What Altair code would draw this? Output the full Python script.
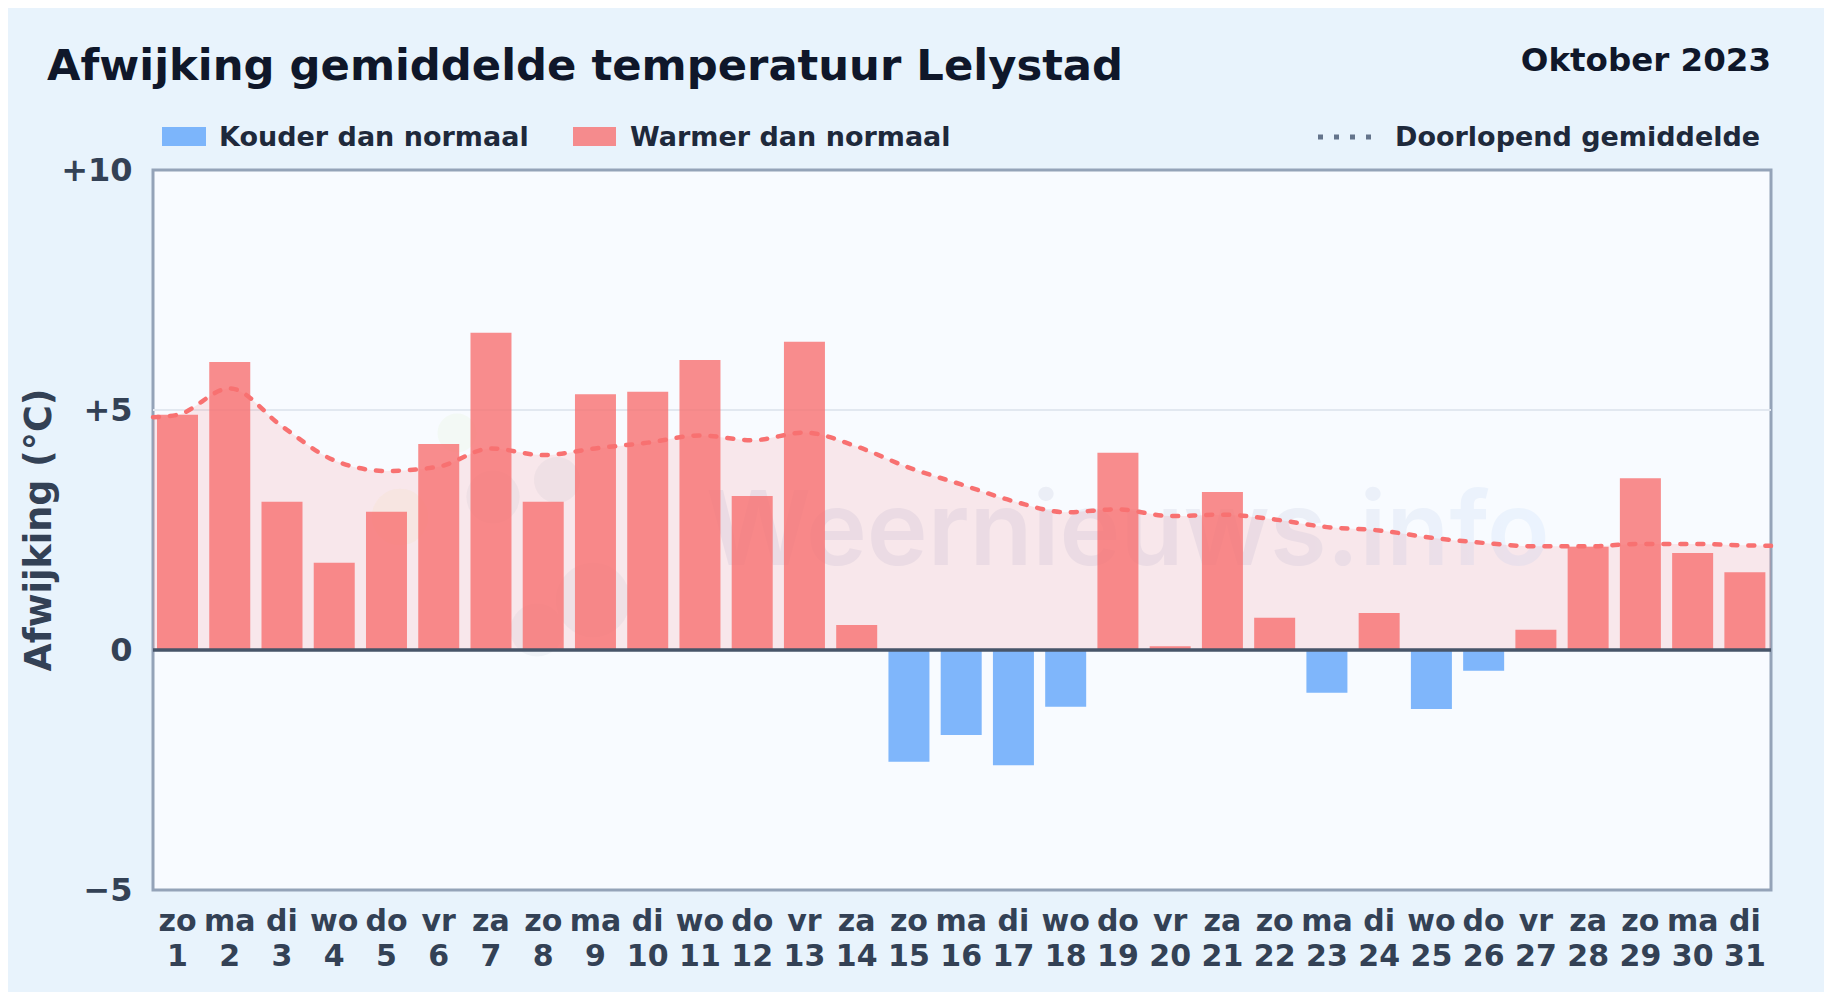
import altair as alt
import pandas as pd

days = list(range(1, 32))
weekdays = ["zo","ma","di","wo","do","vr","za"] * 4 + ["zo","ma","di"]
deviation = [4.90, 6.00, 3.09, 1.82, 2.88, 4.29, 6.61, 3.09, 5.33, 5.38, 6.04, 3.21, 6.42, 0.52, -2.33, -1.77,
             -2.40, -1.18, 4.11, 0.08, 3.29, 0.67, -0.89, 0.77, -1.23, -0.43, 0.42, 2.15, 3.58, 2.02, 1.62]
mean_days = [0.531] + days + [31.5]
running_mean = [4.85, 4.90, 5.45, 4.66, 3.95, 3.73, 3.82, 4.20, 4.06, 4.20, 4.32, 4.47, 4.37, 4.53, 4.24, 3.80, 3.45,
                3.10, 2.87, 2.93, 2.79, 2.82, 2.72, 2.56, 2.49, 2.34, 2.23, 2.16, 2.16, 2.21, 2.21, 2.18, 2.17]
y_ticks = [-5, 0, 5, 10]
y_tick_labels = ["\u22125", "0", "+5", "+10"]
COLD_LABEL, WARM_LABEL = "Kouder dan normaal", "Warmer dan normaal"
kinds = [WARM_LABEL if v >= 0 else COLD_LABEL for v in deviation]

bars_df = pd.DataFrame({"day": days, "value": deviation, "kind": kinds, "weekday": weekdays})
mean_df = pd.DataFrame({"day": mean_days, "mean": running_mean})
ticks_df = pd.DataFrame({"tick": y_ticks, "text": y_tick_labels})
ref_df = pd.DataFrame({"level": [5]})
zero_df = pd.DataFrame({"level": [0]})

FONT = "DejaVu Sans"
RED, BLUE = "#f87171", "#60a5fa"
one = pd.DataFrame({"k": [0]})
x_scale = alt.Scale(domain=[0.531, 31.5], nice=False, zero=False, padding=0)
y_scale = alt.Scale(domain=[-5, 10], nice=False, padding=0)
X = alt.X("day:Q", scale=x_scale, axis=None)

def px(page_x):
    return alt.value(page_x - 153)

def py(page_y):
    return alt.value(page_y - 170)

def Y(field):
    return alt.Y(field, scale=y_scale, axis=None)

def label(text, x, y, size, color, align="left", angle=0):
    return alt.Chart(one).mark_text(text=text, font=FONT, fontWeight="bold", fontSize=size, color=color,
                                    align=align, baseline="alphabetic", angle=angle).encode(x=px(x), y=py(y))

def swatch(x1, x2, color):
    return alt.Chart(one).mark_rect(color=color, opacity=0.8).encode(x=px(x1), x2=px(x2), y=py(127), y2=py(146))

def blob(x, y, r, color):
    return alt.Chart(one).mark_circle(color=color, opacity=0.06, size=3.1416 * r * r).encode(x=px(x), y=py(y))

def day_labels(field, page_y):
    return alt.Chart(bars_df).mark_text(font=FONT, fontWeight="bold", fontSize=30, color="#334155",
                                        baseline="alphabetic").encode(x=X, y=py(page_y), text=field)

grid5 = alt.Chart(ref_df).mark_rule(color="#e2e8f0", size=2).encode(y=Y("level:Q"))
area = alt.Chart(mean_df).mark_area(color=RED, opacity=0.14, interpolate="monotone").encode(
    x=X, y=Y("mean:Q"), y2=alt.datum(0))
watermark = alt.Chart(one).mark_text(
    text="Weernieuws.info", font="Inter", fontWeight=600, fontSize=103, align="left", baseline="alphabetic",
    opacity=0.08,
    color=alt.LinearGradient(gradient="linear", x1=0, x2=1, y1=0, y2=0,
                             stops=[alt.GradientStop(color="#5b5f97", offset=0),
                                    alt.GradientStop(color="#5b5f97", offset=0.65),
                                    alt.GradientStop(color="#60a5fa", offset=1)])
).encode(x=px(706), y=py(565))
blobs = [blob(457, 433, 22, "#a3d65c"), blob(400, 517, 32, "#f5c542"), blob(493, 497, 30, "#64748b"),
         blob(557, 480, 26, "#64748b"), blob(593, 600, 42, "#64748b"), blob(537, 630, 30, "#64748b")]
bars = alt.Chart(bars_df).mark_bar(size=41, opacity=0.8).encode(
    x=X, y=Y("value:Q"), y2=alt.datum(0),
    color=alt.Color("kind:N", scale=alt.Scale(domain=[COLD_LABEL, WARM_LABEL], range=[BLUE, RED]), legend=None))
zero = alt.Chart(zero_df).mark_rule(color="#475569", size=3.5).encode(y=Y("level:Q"))
line = alt.Chart(mean_df).mark_line(color=RED, strokeWidth=4.5, strokeDash=[6, 11], strokeCap="round",
                                    interpolate="monotone").encode(x=X, y=Y("mean:Q"))
legend_line = alt.Chart(one).mark_rule(color="#64748b", size=5, strokeDash=[5, 11]).encode(
    x=px(1318), x2=px(1372), y=py(137))
tick_labels = alt.Chart(ticks_df).mark_text(font=FONT, fontWeight="bold", fontSize=32, color="#334155",
                                            align="right", baseline="middle", dy=1).encode(
    x=px(132.5), y=Y("tick:Q"), text="text:N")

chart = alt.layer(
    grid5, area, *blobs, watermark, bars, zero, line, tick_labels,
    day_labels("weekday:N", 931), day_labels("day:Q", 966),
    label("Afwijking gemiddelde temperatuur Lelystad", 47, 79.5, 43.3, "#0f172a"),
    label("Oktober 2023", 1771, 71, 32.5, "#0f172a", align="right"),
    swatch(162, 206, BLUE), label(COLD_LABEL, 219, 146, 27, "#1e293b"),
    swatch(573, 616, RED), label(WARM_LABEL, 630, 146, 27, "#1e293b"),
    legend_line, label("Doorlopend gemiddelde", 1395, 146, 27, "#1e293b"),
    label("Afwijking (\u00b0C)", 51, 530, 36.5, "#334155", align="center", angle=270),
).properties(
    width=1618, height=720, background="#e8f3fc",
    autosize=alt.AutoSizeParams(type="none"),
    padding={"left": 145, "top": 162, "right": 53, "bottom": 102},
).configure_view(fill="#f8fbff", stroke="#94a3b8", strokeWidth=3)

chart.save("out.html", embed_options={"renderer": "svg", "actions": False})
